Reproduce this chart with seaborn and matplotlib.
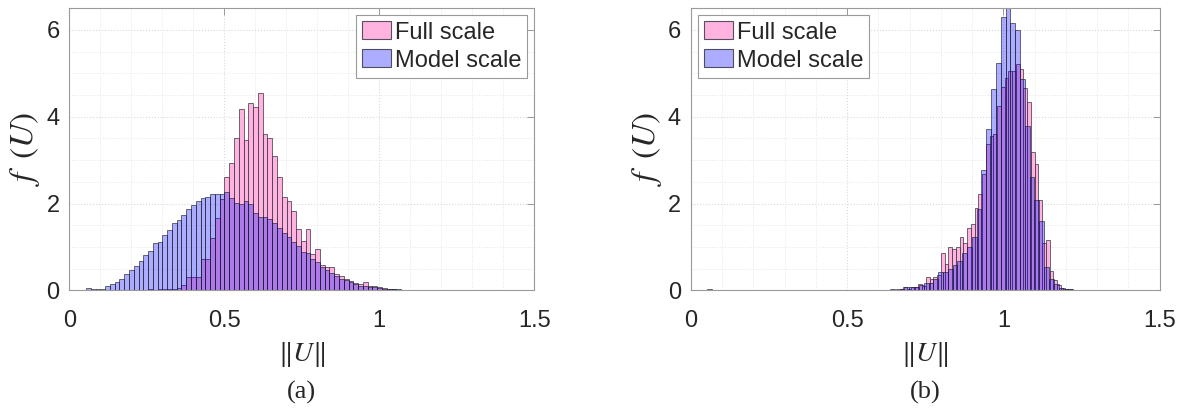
import numpy as np
import pandas as pd
import matplotlib
matplotlib.use("Agg")
import matplotlib.pyplot as plt
import seaborn as sns
from matplotlib.patches import Patch
from matplotlib.ticker import MultipleLocator

# ---- data: bin heights (pdf) ----
bin_width_model = 0.0154
bin_width_full_b = 0.012

# panel (a)
a_model_start = 0.0385
a_model = [0.01, 0.045, 0.02, 0.04, 0.04, 0.09, 0.145, 0.18, 0.27, 0.37,
           0.46, 0.56, 0.665, 0.82, 0.91, 1.085, 1.12, 1.27, 1.38, 1.54,
           1.63, 1.74, 1.87, 1.96, 2.05, 2.13, 2.14, 2.23, 2.21, 2.22,
           2.26, 2.12, 2.02, 2.0, 2.05, 1.99, 1.79, 1.70, 1.70, 1.65,
           1.54, 1.43, 1.31, 1.23, 1.12, 1.03, 0.89, 0.86, 0.72, 0.66,
           0.54, 0.47, 0.39, 0.33, 0.27, 0.24, 0.18, 0.14, 0.11, 0.10,
           0.07, 0.07, 0.05, 0.04, 0.04, 0.03, 0.02, 0.01, 0.01,
           0, 0, 0, 0, 0, 0, 0.004, 0, 0.004, 0.004,
           0.004, 0.004, 0, 0.004, 0.004, 0.004, 0.004, 0.004, 0.004]

a_full_start = 0.2387
a_full = [0.005, 0.02, 0.01, 0.02, 0.02, 0.02, 0.03,
          0.05, 0.12, 0.31, 0.31, 0.31, 0.73, 0.73, 1.21, 1.67, 2.11,
          2.61, 2.94, 3.52, 4.17, 3.47, 4.31, 4.23, 4.54, 3.60, 3.52,
          3.10, 2.62, 2.16, 2.05, 1.83, 1.41, 1.14, 1.42, 0.84, 0.96,
          0.58, 0.53, 0.53, 0.37, 0.33, 0.27, 0.22, 0.17, 0.14, 0.18,
          0.09, 0.09, 0.07, 0.05, 0.04, 0.02, 0.01, 0.01]

# panel (b)
b_model_start = 0.0522
b_model = [0.04,
           0, 0, 0, 0, 0, 0, 0, 0, 0, 0, 0,
           0, 0, 0, 0, 0, 0, 0, 0, 0, 0, 0,
           0.004, 0.004, 0.004, 0.004, 0.004,
           0, 0, 0, 0,
           0.004, 0.004, 0.004, 0.005,
           0.01, 0.01, 0.02, 0.01, 0.03, 0.07, 0.07, 0.08, 0.12, 0.17,
           0.17, 0.25, 0.43, 0.43, 0.50, 0.58, 0.67, 0.87, 0.99, 1.23,
           1.87, 2.78, 3.72, 4.63, 5.25, 6.29, 6.70, 6.16, 5.99, 4.88,
           3.78, 2.62, 2.07, 1.60, 0.54, 0.25, 0.14, 0.06, 0.04, 0.02, 0.01]

b_full_start = 0.644
b_full = [0.01, 0.04, 0.02, 0.07, 0.04, 0.07, 0.085, 0.14, 0.10, 0.30,
          0.25, 0.30, 0.35, 0.85, 0.60, 0.99, 0.96, 1.00, 1.22, 1.10,
          1.44, 1.52, 1.90, 2.22, 2.68, 3.37, 3.55, 3.60, 4.25, 4.69,
          4.90, 5.05, 5.05, 5.22, 5.11, 4.67, 4.33, 3.18, 2.91, 2.07,
          1.09, 1.17, 0.45, 0.24, 0.12, 0.05, 0.03, 0.02, 0.01]

series_labels = ['Full scale', 'Model scale']
x_ticks = [0, 0.5, 1, 1.5]
x_tick_labels = ['0', '0.5', '1', '1.5']
y_ticks = [0, 2, 4, 6]
captions = ['(a)', '(b)']

# ---- style ----
PINK = (1.0, 0.70, 0.87)
BLUE = (0.0, 0.0, 1.0, 0.32)
EDGE = (0.12, 0.12, 0.18, 0.75)
AXIS_GRAY = '#9a9a9a'

sns.set_theme(style="white")
plt.rcParams['font.family'] = ['Liberation Sans', 'DejaVu Sans']
plt.rcParams['mathtext.fontset'] = 'stix'


def draw_hist(ax, start, width, heights, face):
    edges = [start + width * i for i in range(len(heights) + 1)]
    df = pd.DataFrame({'u': [e + width / 2 for e in edges[:-1]], 'f': heights})
    n0 = len(ax.patches)
    sns.histplot(data=df, x='u', weights='f', bins=edges, stat='count',
                 element='bars', fill=True, ax=ax)
    for p in ax.patches[n0:]:
        p.set_facecolor(face)
        p.set_edgecolor(EDGE)
        p.set_linewidth(0.6)
        if p.get_height() <= 0:
            p.set_visible(False)


def style_axes(ax):
    ax.set_xlim(0, 1.5)
    ax.set_ylim(0, 6.5)
    ax.set_xticks(x_ticks)
    ax.set_xticklabels(x_tick_labels)
    ax.set_yticks(y_ticks)
    ax.xaxis.set_minor_locator(MultipleLocator(0.1))
    ax.yaxis.set_minor_locator(MultipleLocator(0.5))
    ax.grid(which='major', color='#d9d9d9', linestyle=':', linewidth=0.8)
    ax.grid(which='minor', color='#e6e6e6', linestyle=':', linewidth=0.7)
    ax.set_axisbelow(True)
    ax.tick_params(which='major', direction='in', top=True, right=True,
                   length=5, width=0.7, color=AXIS_GRAY, labelsize=17,
                   labelcolor='#262626')
    ax.tick_params(axis='x', which='major', pad=14)
    ax.tick_params(axis='y', which='major', pad=7)
    ax.tick_params(which='minor', length=0)
    for s in ax.spines.values():
        s.set_visible(True)
        s.set_color(AXIS_GRAY)
        s.set_linewidth(0.8)
    ax.set_xlabel(r'$\|U\|$', fontsize=20, labelpad=6, color='#262626')
    ax.set_ylabel(r'$f\;\;(U)$', fontsize=24, labelpad=3, color='#262626')


fig = plt.figure(figsize=(11.83, 4.11), dpi=100)
W, H = 1183, 411
ax_a = fig.add_axes([69.3 / W, (H - 290.3) / H, 465 / W, 282 / H])
ax_b = fig.add_axes([690.7 / W, (H - 290.3) / H, 469 / W, 282 / H])

draw_hist(ax_a, a_full_start, bin_width_model, a_full, PINK)
draw_hist(ax_a, a_model_start, bin_width_model, a_model, BLUE)
draw_hist(ax_b, b_full_start, bin_width_full_b, b_full, PINK)
draw_hist(ax_b, b_model_start, bin_width_model, b_model, BLUE)

handles = [Patch(facecolor=PINK, edgecolor=EDGE, linewidth=0.8),
           Patch(facecolor=BLUE, edgecolor=EDGE, linewidth=0.8)]

for ax, loc, cap in [(ax_a, 'upper right', captions[0]),
                     (ax_b, 'upper left', captions[1])]:
    style_axes(ax)
    leg = ax.legend(handles, series_labels, loc=loc, fontsize=17,
                    frameon=True, fancybox=False, framealpha=1,
                    edgecolor=AXIS_GRAY, handlelength=1.25, handleheight=0.8,
                    handletextpad=0.15, labelspacing=0.25, borderpad=0.25,
                    borderaxespad=0.3)
    leg.get_frame().set_linewidth(0.8)
    pos = ax.get_position()
    fig.text(pos.x0 + pos.width / 2, 1 - 392 / H, cap, ha='center',
             va='center', fontsize=19, family='Liberation Serif')

plt.savefig('out.png', dpi=100)
